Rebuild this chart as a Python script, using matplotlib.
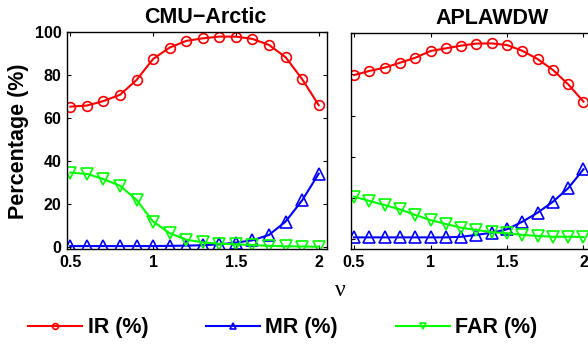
import matplotlib
matplotlib.use('Agg')
import matplotlib.pyplot as plt
import numpy as np

nu = [0.5, 0.6, 0.7, 0.8, 0.9, 1.0, 1.1, 1.2, 1.3, 1.4, 1.5, 1.6, 1.7, 1.8, 1.9, 2.0]

# CMU-Arctic
cmu_ir = [65.4, 65.9, 68.0, 70.9, 77.8, 87.6, 92.9, 96.0, 97.2, 98.0, 98.0, 96.9, 94.1, 88.4, 78.2, 66.1]
cmu_mr = [0.5, 0.5, 0.5, 0.5, 0.5, 0.5, 0.6, 0.7, 0.9, 1.3, 2.1, 3.2, 5.7, 11.9, 21.8, 34.2]
cmu_far = [34.7, 34.1, 31.7, 28.6, 22.0, 11.9, 6.5, 3.5, 2.2, 1.6, 1.3, 1.0, 0.6, 0.4, 0.3, 0.2]

# APLAWDW
apl_ir = [79.7, 81.7, 83.3, 85.7, 88.1, 91.4, 92.7, 94.0, 95.0, 95.1, 94.3, 91.5, 87.5, 82.2, 75.2, 66.8]
apl_mr = [0.8, 0.8, 0.8, 0.8, 0.8, 0.8, 0.8, 1.1, 2.0, 3.1, 4.7, 8.4, 12.8, 18.1, 24.7, 33.9]
apl_far = [20.6, 18.5, 16.5, 14.4, 11.7, 9.2, 7.3, 5.5, 4.4, 3.3, 2.8, 2.0, 1.5, 1.1, 1.1, 1.0]

titles = ['CMU\u2212Arctic', 'APLAWDW']
series_labels = ['IR (%)', 'MR (%)', 'FAR (%)']
xticks = [0.5, 1, 1.5, 2]
xticklabels = ['0.5', '1', '1.5', '2']
yticks = [0, 20, 40, 60, 80, 100]

plt.rcParams['font.family'] = ['Liberation Sans', 'DejaVu Sans']
plt.rcParams['font.weight'] = 'bold'

W, H = 588, 347
fig = plt.figure(figsize=(W / 100, H / 100), dpi=100)


def px_axes(x0, x1, ytop, ybot):
    return fig.add_axes([x0 / W, 1 - ybot / H, (x1 - x0) / W, (ybot - ytop) / H])


ax1 = px_axes(67, 327, 32.3, 249.3)
ax2 = px_axes(351, 611, 33.3, 249.3)

styles = [dict(color='#ff0000', marker='o', ms=7),
          dict(color='#0000ff', marker='^', ms=8),
          dict(color='#00ff00', marker='v', ms=8)]

handles = []
for ax, data, title, ylim, xlim, tx in [
        (ax1, [cmu_ir, cmu_mr, cmu_far], titles[0], (-1, 100), (0.48, 2.05), 0.533),
        (ax2, [apl_ir, apl_mr, apl_far], titles[1], (-5, 100), (0.48, 2.18), 0.542)]:
    handles = []
    for vals, st, lab in zip(data, styles, series_labels):
        h, = ax.plot(nu, vals, color=st['color'], marker=st['marker'], ms=st['ms'],
                     mfc='none', mec=st['color'], mew=1.2, lw=1.5, label=lab)
        handles.append(h)
    ax.set_xlim(*xlim)
    ax.set_ylim(*ylim)
    ax.set_xticks(xticks)
    ax.set_xticklabels(xticklabels)
    ax.set_yticks(yticks)
    ax.tick_params(direction='in', length=3, width=0.8, top=True, right=True,
                   labelsize=11.5, pad=4)
    for s in ax.spines.values():
        s.set_linewidth(1.0)
    ax.set_title(title, fontsize=15.5, fontweight='bold', x=tx, pad=7)

ax1.set_ylabel('Percentage (%)', fontsize=15.5, fontweight='bold', labelpad=4)
ax2.set_yticklabels([])

fig.text(340 / W, 1 - 290.5 / H, '\u03bd', family=['Liberation Serif', 'DejaVu Serif'],
         fontweight='normal', fontsize=17, ha='center', va='center')

fig.legend(handles, series_labels, loc='center', bbox_to_anchor=(283 / W, 1 - 328 / H),
           ncol=3, frameon=False, fontsize=15.5, handlelength=2.5, handletextpad=0.25,
           columnspacing=2.7, markerscale=0.6)

fig.savefig('out.png', dpi=100)
